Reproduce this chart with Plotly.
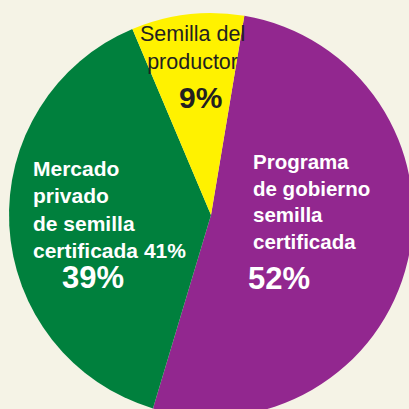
import plotly.graph_objects as go

categories = ["Programa de gobierno semilla certificada",
              "Mercado privado de semilla certificada 41%",
              "Semilla del productor"]
values = [52, 39, 9]
pct_labels = ["52%", "39%", "9%"]
colors = ["#92278F", "#00803D", "#FFF200"]

# figure slightly larger than the 409x409 view so the pie is clipped at
# the bottom/right edge like the reference
W, H = 413, 417
BG = "#F5F3E6"
FONT = "Arial, Liberation Sans, sans-serif"

fig = go.Figure(go.Pie(
    labels=categories, values=values, sort=False, direction="clockwise",
    rotation=9.5, textinfo="none", hoverinfo="label+percent",
    marker=dict(colors=colors, line=dict(width=0)),
    domain=dict(x=[9 / W, 1.0], y=[0.0, 1 - 13 / H]),
    showlegend=False,
))

def px(x, y):
    return x / W, 1 - y / H

anns = []
def add(text, x, y, size, color, bold, xanchor="left", align="left"):
    ax, ay = px(x, y)
    t = f"<b>{text}</b>" if bold else text
    anns.append(dict(text=t, x=ax, y=ay, xref="paper", yref="paper",
                     xanchor=xanchor, yanchor="middle", align=align,
                     showarrow=False, font=dict(family=FONT, size=size, color=color)))

add("Programa<br>de gobierno<br>semilla<br>certificada", 251, 201, 20.5, "white", True)
add(pct_labels[0], 246, 278, 31, "white", True)
add("Mercado<br>privado<br>de semilla<br>certificada 41%", 31, 209, 21, "white", True)
add(pct_labels[1], 93, 277, 31, "white", True, xanchor="center", align="center")
add("Semilla del<br>productor", 192, 48, 21.5, "#231F20", False, xanchor="center", align="center")
add(pct_labels[2], 200, 98, 30, "#231F20", True, xanchor="center", align="center")

fig.update_layout(width=W, height=H, margin=dict(l=0, r=0, t=0, b=0),
                  paper_bgcolor=BG, plot_bgcolor=BG, annotations=anns)
fig.write_html("out.html",
               post_script="document.body.style.margin='0';document.body.style.overflow='hidden';",
               config={"displayModeBar": False})
